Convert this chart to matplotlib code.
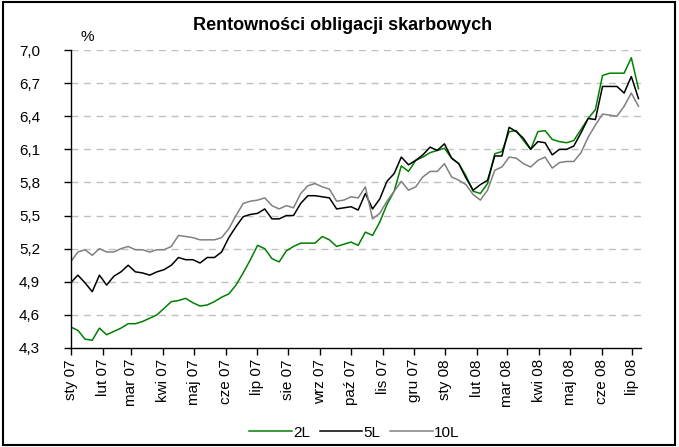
import numpy as np
import pandas as pd
import matplotlib
matplotlib.use('Agg')
import matplotlib.pyplot as plt
import matplotlib.dates as mdates
from matplotlib.patches import Rectangle

plt.rcParams['font.family'] = ['Liberation Sans', 'DejaVu Sans']

# dane tygodniowe od 2007-01-01
dates = pd.date_range('2007-01-01', periods=80, freq='7D')

y2 = [4.49, 4.46, 4.38, 4.37, 4.48, 4.42, 4.45, 4.48, 4.52, 4.52, 4.54, 4.57, 4.60, 4.66, 4.72,
      4.73, 4.75, 4.71, 4.68, 4.69, 4.72, 4.76, 4.79, 4.87, 4.98, 5.10, 5.23, 5.20, 5.11, 5.08,
      5.18, 5.22, 5.25, 5.25, 5.25, 5.31, 5.28, 5.22, 5.24, 5.26, 5.23, 5.35, 5.32, 5.44,
      5.60, 5.72, 5.95, 5.90, 6.00, 6.03, 6.07, 6.09, 6.11, 6.02, 5.97, 5.86, 5.72, 5.70, 5.79,
      6.06, 6.08, 6.26, 6.27, 6.18, 6.10, 6.26, 6.27, 6.19, 6.17, 6.16,
      6.18, 6.28, 6.38, 6.46, 6.77, 6.79, 6.79, 6.79, 6.93, 6.65]

y5 = [4.89, 4.96, 4.89, 4.81, 4.96, 4.87, 4.95, 4.99, 5.05, 4.99, 4.98, 4.96, 4.99, 5.01, 5.05,
      5.12, 5.10, 5.10, 5.07, 5.12, 5.12, 5.17, 5.30, 5.40, 5.49, 5.51, 5.52, 5.56, 5.47, 5.47,
      5.50, 5.50, 5.61, 5.68, 5.68, 5.67, 5.66, 5.56, 5.57, 5.58, 5.55, 5.70, 5.56, 5.65,
      5.81, 5.88, 6.03, 5.96, 6.00, 6.05, 6.12, 6.09, 6.15, 6.02, 5.97, 5.84, 5.73, 5.78, 5.82,
      6.04, 6.04, 6.30, 6.26, 6.20, 6.10, 6.17, 6.16, 6.05, 6.10, 6.10,
      6.13, 6.25, 6.38, 6.37, 6.67, 6.67, 6.67, 6.61, 6.76, 6.56]

y10 = [5.08, 5.17, 5.19, 5.14, 5.20, 5.17, 5.17, 5.20, 5.22, 5.19, 5.19, 5.17, 5.19, 5.19, 5.22,
       5.32, 5.31, 5.30, 5.28, 5.28, 5.28, 5.30, 5.38, 5.50, 5.61, 5.63, 5.64, 5.66, 5.59, 5.56,
       5.59, 5.57, 5.70, 5.77, 5.79, 5.76, 5.74, 5.63, 5.64, 5.67, 5.66, 5.76, 5.47, 5.52,
       5.63, 5.72, 5.81, 5.73, 5.76, 5.85, 5.90, 5.90, 5.97, 5.85, 5.82, 5.78, 5.69, 5.64, 5.73,
       5.91, 5.94, 6.03, 6.02, 5.97, 5.94, 6.00, 6.03, 5.93, 5.98, 5.99,
       5.99, 6.07, 6.21, 6.32, 6.42, 6.41, 6.40, 6.49, 6.61, 6.49]

month_ticks = pd.date_range('2007-01-01', '2008-07-01', freq='MS')
month_labels = ['sty 07', 'lut 07', 'mar 07', 'kwi 07', 'maj 07', 'cze 07', 'lip 07',
                'sie 07', 'wrz 07', 'paź 07', 'lis 07', 'gru 07', 'sty 08', 'lut 08',
                'mar 08', 'kwi 08', 'maj 08', 'cze 08', 'lip 08']
y_ticks = [4.3, 4.6, 4.9, 5.2, 5.5, 5.8, 6.1, 6.4, 6.7, 7.0]

fig = plt.figure(figsize=(6.79, 4.47), dpi=100)
ax = fig.add_axes([0.1041, 0.2215, 0.944 - 0.1041, 0.8881 - 0.2215])

ax.plot(dates, y2, color='#008000', lw=1.1, label='2L')
ax.plot(dates, y5, color='#000000', lw=1.1, label='5L')
ax.plot(dates, y10, color='#808080', lw=1.1, label='10L')

ax.set_ylim(4.3, 7.0)
ax.set_xlim(pd.Timestamp('2007-01-01'), pd.Timestamp('2008-07-09 10:00'))
ax.set_yticks(y_ticks)
ax.set_yticklabels([f'{v:.1f}'.replace('.', ',') for v in y_ticks], fontsize=11)
ax.set_xticks(mdates.date2num(month_ticks))
ax.set_xticklabels(month_labels, rotation=90, fontsize=11)
ax.tick_params(axis='both', direction='out', length=5, width=1, colors='black')
ax.tick_params(axis='x', pad=3)
ax.tick_params(axis='y', pad=17)

for v in y_ticks[1:]:
    ax.axhline(v, color='#c0c0c0', lw=1, ls=(0, (5, 4)), zorder=0)

for s in ['top', 'right']:
    ax.spines[s].set_visible(False)
for s in ['left', 'bottom']:
    ax.spines[s].set_linewidth(1)

fig.text(0.505, 0.942, 'Rentowności obligacji skarbowych', ha='center', va='center',
         fontsize=13, fontweight='bold')
fig.text(0.128, 0.918, '%', ha='center', va='center', fontsize=11)

fig.legend(loc='center', bbox_to_anchor=(0.522, 0.032), ncol=3, frameon=False,
           fontsize=11, handlelength=2.8, columnspacing=0.6, handletextpad=0.1)

fig.patches.append(Rectangle((0.004, 0.005), 0.99, 0.99, transform=fig.transFigure,
                             fill=False, edgecolor='black', lw=1.5))

fig.savefig('out.png', dpi=100)
